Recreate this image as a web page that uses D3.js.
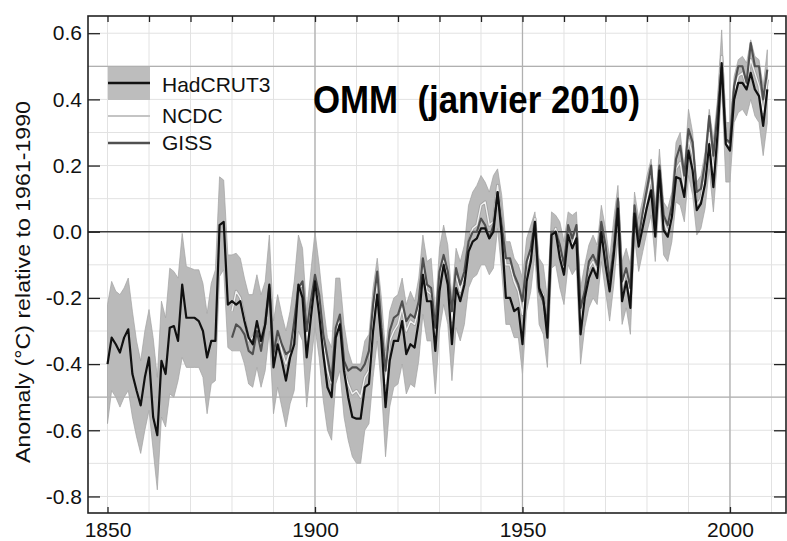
<!DOCTYPE html>
<html><head><meta charset="utf-8">
<script src="https://cdn.jsdelivr.net/npm/d3@7/dist/d3.min.js"></script>
<style>html,body{margin:0;padding:0;background:#fff}svg{display:block}</style>
</head><body>
<svg id="c" width="787" height="541"></svg>
<script>
// ---- DATA ----
const hadStart = 1850;
const hadcrut3 = [
 -0.40,-0.32,-0.34,-0.365,-0.32,-0.295,-0.43,-0.48,-0.525,-0.44,
 -0.38,-0.56,-0.615,-0.39,-0.43,-0.29,-0.285,-0.33,-0.16,-0.26,
 -0.26,-0.26,-0.27,-0.30,-0.38,-0.33,-0.33,0.02,0.03,-0.22,
 -0.21,-0.22,-0.21,-0.27,-0.32,-0.34,-0.27,-0.33,-0.28,-0.16,
 -0.41,-0.34,-0.39,-0.45,-0.38,-0.34,-0.16,-0.20,-0.38,-0.26,
 -0.15,-0.25,-0.37,-0.47,-0.50,-0.32,-0.28,-0.42,-0.50,-0.56,
 -0.565,-0.565,-0.47,-0.46,-0.30,-0.19,-0.33,-0.53,-0.39,-0.33,
 -0.33,-0.27,-0.37,-0.34,-0.35,-0.27,-0.13,-0.21,-0.21,-0.36,
 -0.18,-0.10,-0.16,-0.34,-0.17,-0.21,-0.16,-0.06,-0.03,-0.02,
 0.01,0.01,-0.02,0.00,0.12,-0.01,-0.20,-0.20,-0.24,-0.23,
 -0.34,-0.15,-0.09,0.03,-0.17,-0.20,-0.32,-0.01,0.00,-0.08,
 -0.13,-0.01,-0.05,-0.02,-0.31,-0.20,-0.14,-0.11,-0.14,0.00,
 -0.10,-0.18,-0.07,0.07,-0.21,-0.15,-0.23,0.055,-0.045,0.015,
 0.075,0.125,-0.015,0.185,0.005,-0.015,0.045,0.165,0.16,0.105,
 0.245,0.185,0.065,0.085,0.145,0.265,0.135,0.295,0.51,0.265,
 0.245,0.40,0.45,0.45,0.43,0.48,0.43,0.41,0.32,0.43
];
const hadLower = [
 -0.58,-0.48,-0.50,-0.53,-0.50,-0.48,-0.56,-0.62,-0.67,-0.60,
 -0.54,-0.66,-0.78,-0.56,-0.59,-0.49,-0.50,-0.45,-0.38,-0.41,
 -0.41,-0.41,-0.41,-0.44,-0.55,-0.46,-0.45,-0.135,-0.115,-0.35,
 -0.36,-0.36,-0.36,-0.40,-0.46,-0.47,-0.41,-0.47,-0.42,-0.30,
 -0.55,-0.47,-0.53,-0.59,-0.52,-0.48,-0.30,-0.33,-0.53,-0.40,
 -0.29,-0.38,-0.51,-0.60,-0.63,-0.46,-0.42,-0.56,-0.63,-0.68,
 -0.70,-0.70,-0.60,-0.58,-0.44,-0.33,-0.47,-0.68,-0.53,-0.47,
 -0.46,-0.40,-0.49,-0.46,-0.47,-0.39,-0.25,-0.33,-0.33,-0.49,
 -0.30,-0.22,-0.28,-0.45,-0.29,-0.33,-0.28,-0.17,-0.14,-0.13,
 -0.10,-0.10,-0.13,-0.11,0.01,-0.12,-0.28,-0.28,-0.32,-0.32,
 -0.43,-0.24,-0.18,-0.07,-0.28,-0.31,-0.41,-0.11,-0.10,-0.17,
 -0.22,-0.10,-0.13,-0.11,-0.40,-0.29,-0.23,-0.20,-0.22,-0.09,
 -0.18,-0.27,-0.16,-0.02,-0.28,-0.23,-0.31,-0.02,-0.12,-0.06,
 0.00,0.05,-0.09,0.11,-0.07,-0.09,-0.03,0.09,0.08,0.03,
 0.17,0.11,-0.01,0.01,0.07,0.19,0.06,0.22,0.44,0.15,
 0.15,0.33,0.36,0.37,0.35,0.40,0.35,0.33,0.23,0.33
];
const hadUpper = [
 -0.22,-0.15,-0.18,-0.19,-0.17,-0.14,-0.24,-0.33,-0.39,-0.30,
 -0.235,-0.32,-0.44,-0.21,-0.26,-0.11,-0.12,-0.14,-0.005,-0.105,
 -0.11,-0.115,-0.115,-0.156,-0.247,-0.156,-0.115,0.166,0.156,-0.07,
 -0.07,-0.065,-0.08,-0.14,-0.19,-0.19,-0.13,-0.19,-0.15,-0.01,
 -0.27,-0.19,-0.25,-0.30,-0.24,-0.15,-0.01,-0.05,-0.24,-0.12,
 0.00,-0.10,-0.22,-0.32,-0.35,-0.14,-0.14,-0.28,-0.36,-0.40,
 -0.40,-0.40,-0.33,-0.31,-0.17,-0.08,-0.20,-0.36,-0.24,-0.20,
 -0.19,-0.14,-0.22,-0.18,-0.21,-0.14,-0.01,-0.09,-0.08,-0.24,
 -0.05,0.02,-0.04,-0.20,-0.05,-0.09,-0.04,0.08,0.12,0.14,
 0.17,0.15,0.12,0.17,0.19,0.11,-0.03,-0.03,-0.08,-0.10,
 -0.14,-0.02,0.02,0.06,-0.08,-0.10,-0.20,0.06,0.05,0.03,
 -0.03,0.06,0.05,0.06,-0.17,-0.10,-0.04,-0.01,-0.04,0.08,
 0.01,-0.08,0.04,0.14,-0.09,-0.05,-0.10,0.12,0.04,0.10,
 0.17,0.22,0.08,0.25,0.09,0.07,0.12,0.27,0.30,0.19,
 0.37,0.30,0.15,0.17,0.24,0.37,0.28,0.40,0.61,0.33,
 0.33,0.47,0.52,0.53,0.51,0.58,0.53,0.52,0.44,0.55
];
const otherStart = 1880;
const giss = [
 -0.32,-0.28,-0.29,-0.31,-0.36,-0.37,-0.30,-0.36,-0.28,-0.17,
 -0.37,-0.30,-0.34,-0.37,-0.36,-0.27,-0.17,-0.15,-0.30,-0.21,
 -0.13,-0.19,-0.31,-0.38,-0.45,-0.29,-0.25,-0.39,-0.42,-0.41,
 -0.41,-0.42,-0.40,-0.36,-0.22,-0.12,-0.29,-0.42,-0.30,-0.26,
 -0.25,-0.21,-0.27,-0.25,-0.26,-0.21,-0.08,-0.16,-0.17,-0.29,
 -0.12,-0.07,-0.12,-0.24,-0.11,-0.16,-0.12,-0.03,0.00,0.00,
 0.04,0.02,-0.02,0.02,0.12,0.02,-0.08,-0.08,-0.13,-0.16,
 -0.21,-0.09,-0.05,0.03,-0.18,-0.21,-0.28,0.00,0.00,-0.04,
 -0.10,0.02,-0.02,0.02,-0.23,-0.18,-0.09,-0.07,-0.10,0.03,
 -0.04,-0.15,-0.05,0.10,-0.15,-0.11,-0.17,0.08,-0.02,0.06,
 0.13,0.20,0.03,0.20,0.05,0.02,0.08,0.22,0.26,0.17,
 0.31,0.27,0.12,0.13,0.21,0.35,0.23,0.36,0.50,0.28,
 0.27,0.44,0.50,0.50,0.45,0.57,0.50,0.50,0.40,0.49
];
const ncdc = [
 -0.24,-0.18,-0.20,-0.26,-0.33,-0.32,-0.29,-0.34,-0.27,-0.17,
 -0.38,-0.30,-0.36,-0.40,-0.36,-0.30,-0.17,-0.16,-0.33,-0.22,
 -0.17,-0.21,-0.33,-0.42,-0.46,-0.31,-0.26,-0.42,-0.46,-0.49,
 -0.48,-0.50,-0.44,-0.42,-0.26,-0.15,-0.31,-0.46,-0.33,-0.30,
 -0.28,-0.23,-0.30,-0.27,-0.28,-0.23,-0.10,-0.18,-0.19,-0.32,
 -0.14,-0.08,-0.13,-0.27,-0.13,-0.18,-0.13,-0.03,0.01,0.02,
 0.08,0.09,0.02,0.03,0.14,0.03,-0.10,-0.10,-0.15,-0.18,
 -0.25,-0.11,-0.06,0.04,-0.17,-0.19,-0.29,-0.02,0.01,-0.05,
 -0.12,-0.01,-0.04,0.00,-0.27,-0.19,-0.11,-0.09,-0.12,0.02,
 -0.06,-0.16,-0.04,0.09,-0.17,-0.12,-0.19,0.06,-0.03,0.04,
 0.10,0.16,0.01,0.19,0.03,0.00,0.06,0.19,0.21,0.13,
 0.28,0.23,0.08,0.10,0.17,0.30,0.18,0.34,0.53,0.27,
 0.26,0.42,0.47,0.48,0.44,0.52,0.48,0.44,0.36,0.46
];
const xTickLabels = [1850, 1900, 1950, 2000];
const yTickLabels = [-0.8, -0.6, -0.4, -0.2, 0.0, 0.2, 0.4, 0.6];
const seriesNames = ["HadCRUT3", "NCDC", "GISS"];
const titleText = "OMM  (janvier 2010)";
const yTitle = "Anomaly (°C) relative to 1961-1990";

// ---- CHART ----
const svg = d3.select("#c");
const L = 88, R = 786, T = 16, B = 513;
const x = d3.scaleLinear([1845.3, 2013.5], [L, R]);
const y = d3.scaleLinear([-0.85, 0.652], [B, T]);
const font = "'Liberation Sans', Arial, Helvetica, sans-serif";

const had = hadcrut3.map((v, i) => ({yr: hadStart + i, v, lo: hadLower[i], hi: hadUpper[i]}));
const gs = giss.map((v, i) => ({yr: otherStart + i, v}));
const nc = ncdc.map((v, i) => ({yr: otherStart + i, v}));

const clip = svg.append("defs").append("clipPath").attr("id", "pc");
clip.append("rect").attr("x", L).attr("y", T).attr("width", R - L).attr("height", B - T);

const plot = svg.append("g").attr("clip-path", "url(#pc)");

// light grid
const decades = d3.range(1850, 2011, 10);
const tenths = d3.range(-8, 7).map(d => d / 10);
plot.selectAll(".vg").data(decades).join("line")
  .attr("x1", d => x(d)).attr("x2", d => x(d)).attr("y1", T).attr("y2", B)
  .attr("stroke", "#e2e2e2").attr("stroke-width", 1);
plot.selectAll(".hg").data(tenths).join("line")
  .attr("y1", d => y(d)).attr("y2", d => y(d)).attr("x1", L).attr("x2", R)
  .attr("stroke", "#e2e2e2").attr("stroke-width", 1);

// uncertainty band
plot.append("path").datum(had)
  .attr("d", d3.area().x(d => x(d.yr)).y0(d => y(d.lo)).y1(d => y(d.hi)))
  .attr("fill", "#bababa").attr("stroke", "#a2a2a2").attr("stroke-width", 0.7);

// stronger grid lines
plot.selectAll(".vg2").data([1900, 1950, 2000]).join("line")
  .attr("x1", d => x(d)).attr("x2", d => x(d)).attr("y1", T).attr("y2", B)
  .attr("stroke", "#b0b0b0").attr("stroke-width", 1.3);
plot.selectAll(".hg2").data([-0.5, 0.5]).join("line")
  .attr("y1", d => y(d)).attr("y2", d => y(d)).attr("x1", L).attr("x2", R)
  .attr("stroke", "#b0b0b0").attr("stroke-width", 1.3);
plot.append("line").attr("x1", L).attr("x2", R).attr("y1", y(0)).attr("y2", y(0))
  .attr("stroke", "#3c3c3c").attr("stroke-width", 1.7);

const line = d3.line().x(d => x(d.yr)).y(d => y(d.v));
// NCDC (light line with grey edge)
plot.append("path").datum(nc).attr("d", line).attr("fill", "none")
  .attr("stroke", "#a4a4a4").attr("stroke-width", 3.2).attr("stroke-linejoin", "round");
plot.append("path").datum(nc).attr("d", line).attr("fill", "none")
  .attr("stroke", "#f2f2f2").attr("stroke-width", 1.3).attr("stroke-linejoin", "round");
// GISS
plot.append("path").datum(gs).attr("d", line).attr("fill", "none")
  .attr("stroke", "#505050").attr("stroke-width", 2.1).attr("stroke-linejoin", "round");
// HadCRUT3
plot.append("path").datum(had).attr("d", line).attr("fill", "none")
  .attr("stroke", "#111").attr("stroke-width", 2.2).attr("stroke-linejoin", "round");

// axes
const yMinor = d3.range(-16, 14).map(d => d / 20);
const gL = svg.append("g").attr("transform", `translate(${L},0)`);
gL.call(d3.axisLeft(y).tickValues(yMinor).tickSize(-7).tickFormat(""));
gL.call(d3.axisLeft(y).tickValues(yTickLabels).tickSize(-12).tickPadding(6)
  .tickFormat(d => d.toFixed(1)));
gL.select(".domain").remove();
gL.selectAll("text").attr("font-family", font).attr("font-size", 21).attr("fill", "#111");
gL.selectAll("line").attr("stroke", "#222").attr("stroke-width", 1.3);

const gR = svg.append("g").attr("transform", `translate(${R},0)`);
gR.call(d3.axisRight(y).tickValues(yMinor).tickSize(-7).tickFormat(""));
gR.call(d3.axisRight(y).tickValues(yTickLabels).tickSize(-12).tickFormat(""));
gR.select(".domain").remove();
gR.selectAll("line").attr("stroke", "#222").attr("stroke-width", 1.3);

const gB = svg.append("g").attr("transform", `translate(0,${B})`);
gB.call(d3.axisBottom(x).tickValues(decades).tickSize(-6).tickFormat(""));
gB.call(d3.axisBottom(x).tickValues(xTickLabels).tickSize(-6).tickPadding(9)
  .tickFormat(d3.format("d")));
gB.select(".domain").remove();
gB.selectAll("text").attr("font-family", font).attr("font-size", 21).attr("fill", "#111");
gB.selectAll("line").attr("stroke", "#222").attr("stroke-width", 1.3);

const gT = svg.append("g").attr("transform", `translate(0,${T})`);
gT.call(d3.axisTop(x).tickValues(decades).tickSize(-6).tickFormat(""));
gT.select(".domain").remove();
gT.selectAll("line").attr("stroke", "#222").attr("stroke-width", 1.3);

// frame
svg.append("rect").attr("x", L).attr("y", T).attr("width", R - L).attr("height", B - T)
  .attr("fill", "none").attr("stroke", "#222").attr("stroke-width", 1.6);

// y title
svg.append("text").attr("transform", "translate(30,282) rotate(-90)")
  .attr("text-anchor", "middle").attr("font-family", font).attr("font-size", 21)
  .attr("fill", "#111").attr("textLength", 362).attr("lengthAdjust", "spacingAndGlyphs")
  .text(yTitle);

// title
svg.append("text").attr("x", 313).attr("y", 113)
  .attr("font-family", font).attr("font-weight", "bold").attr("font-size", 39)
  .attr("fill", "#000").style("white-space", "pre")
  .attr("textLength", 327).attr("lengthAdjust", "spacingAndGlyphs")
  .text(titleText);

// legend
const lg = svg.append("g");
lg.append("rect").attr("x", 108).attr("y", 67).attr("width", 42).attr("height", 33).attr("fill", "#bdbdbd");
const legendStyles = [
  {y: 83, stroke: "#111", w: 2.4, ty: 92},
  {y: 116, stroke: "#c4c4c4", w: 1.8, ty: 123},
  {y: 143, stroke: "#505050", w: 2.4, ty: 150}
];
seriesNames.forEach((n, i) => {
  const s = legendStyles[i];
  lg.append("line").attr("x1", 108).attr("x2", 150).attr("y1", s.y).attr("y2", s.y)
    .attr("stroke", s.stroke).attr("stroke-width", s.w);
  lg.append("text").attr("x", 162).attr("y", s.ty).attr("font-family", font)
    .attr("font-size", 21).attr("fill", "#111").text(n);
});
</script>
</body></html>
